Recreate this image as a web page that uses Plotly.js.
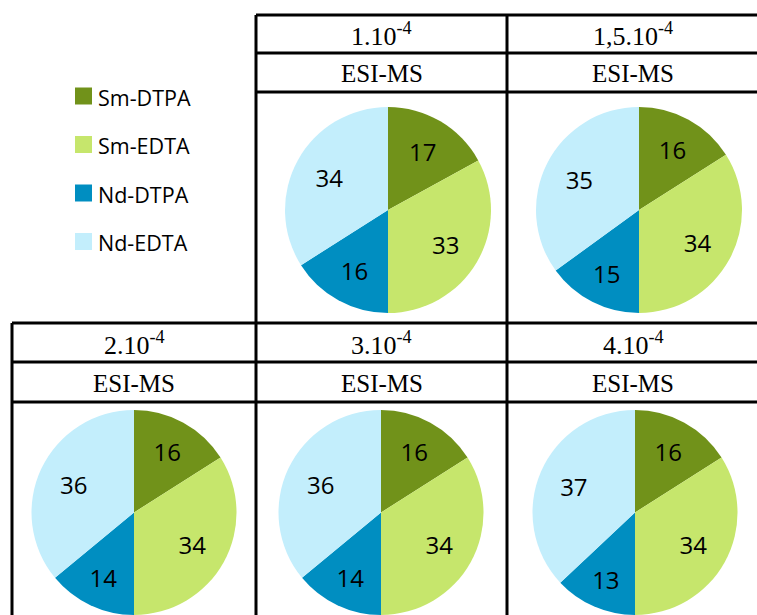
<!DOCTYPE html>
<html>
<head>
<meta charset="utf-8">
<script src="https://cdn.plot.ly/plotly-3.0.1.min.js"></script>
<style>html,body{margin:0;padding:0;background:#fff;}#chart{width:757px;height:615px;}</style>
</head>
<body>
<div id="chart"></div>
<script>
// ---- data ----
const categories = ['Sm-DTPA', 'Sm-EDTA', 'Nd-DTPA', 'Nd-EDTA'];
const concentrations = ['1.10<sup>-4</sup>', '1,5.10<sup>-4</sup>', '2.10<sup>-4</sup>', '3.10<sup>-4</sup>', '4.10<sup>-4</sup>'];
const method = 'ESI-MS';
const values_1_0 = [17, 33, 16, 34];
const values_1_5 = [16, 34, 15, 35];
const values_2_0 = [16, 34, 14, 36];
const values_3_0 = [16, 34, 14, 36];
const values_4_0 = [16, 34, 13, 37];
const seriesValues = [values_1_0, values_1_5, values_2_0, values_3_0, values_4_0];
const colors = ['#71921a', '#c6e66c', '#008ec1', '#c3eefc'];

// ---- layout helpers ----
const W = 757, H = 615;
const px = x => x / W;
const py = y => 1 - y / H;
function dom(cx, cy, r) {
  return {
    x: [Math.max(0, px(cx - r - 3)), Math.min(1, px(cx + r + 3))],
    y: [Math.max(0, py(cy + r)), Math.min(1, py(cy - r))]
  };
}
const cells = [
  {l: 256, r: 507, t: 15, m: 53, b: 92, cx: 388, cy: 210, rad: 103},
  {l: 507, r: 760, t: 15, m: 53, b: 92, cx: 639, cy: 210, rad: 103},
  {l: 12,  r: 256, t: 323, m: 362, b: 402, cx: 134, cy: 512.5, rad: 102.5},
  {l: 256, r: 507, t: 323, m: 362, b: 402, cx: 381, cy: 512.5, rad: 102.5},
  {l: 507, r: 760, t: 323, m: 362, b: 402, cx: 635, cy: 512.5, rad: 102.5}
];

const traces = [];
seriesValues.forEach((vals, i) => {
  const d = dom(cells[i].cx, cells[i].cy, cells[i].rad);
  traces.push({
    type: 'pie', labels: categories, values: vals,
    sort: false, direction: 'clockwise', rotation: 0, domain: d,
    marker: {colors: colors, line: {width: 0}},
    textinfo: 'none', hoverinfo: 'label+value', showlegend: false
  });
  traces.push({
    type: 'pie', labels: categories, values: vals,
    sort: false, direction: 'clockwise', rotation: 0, domain: d, hole: 0.3,
    marker: {colors: ['rgba(0,0,0,0)', 'rgba(0,0,0,0)', 'rgba(0,0,0,0)', 'rgba(0,0,0,0)'], line: {width: 0}},
    textinfo: 'value', textposition: 'inside', insidetextorientation: 'horizontal',
    textfont: {family: 'Open Sans, sans-serif', size: 24, color: '#000'},
    hoverinfo: 'skip', showlegend: false
  });
});

const shapes = [];
const annotations = [];
const line = (x0, y0, x1, y1) => shapes.push({
  type: 'line', xref: 'paper', yref: 'paper',
  x0: px(x0), y0: py(y0), x1: px(x1), y1: py(y1),
  line: {color: '#000', width: 3}
});
line(256, 15, 760, 15); line(256, 53, 760, 53); line(256, 92, 760, 92);
line(256, 15, 256, 620); line(507, 15, 507, 620);
line(12, 323, 760, 323); line(12, 362, 760, 362); line(12, 402, 760, 402);
line(12, 323, 12, 620);

cells.forEach((c, i) => {
  const xm = px((c.l + Math.min(c.r, 757)) / 2 + (c.r > 757 ? 1 : 0));
  annotations.push({
    xref: 'paper', yref: 'paper', x: xm, y: py((c.t + c.m) / 2 + 1),
    text: concentrations[i], showarrow: false, xanchor: 'center', yanchor: 'middle',
    font: {family: 'Liberation Serif, DejaVu Serif, serif', size: 26, color: '#000'}
  });
  annotations.push({
    xref: 'paper', yref: 'paper', x: xm, y: py((c.m + c.b) / 2 + 1),
    text: method, showarrow: false, xanchor: 'center', yanchor: 'middle',
    font: {family: 'Liberation Serif, DejaVu Serif, serif', size: 25, color: '#000'}
  });
});

categories.forEach((cat, i) => {
  const yc = 96 + i * 48.5;
  shapes.push({
    type: 'rect', xref: 'paper', yref: 'paper',
    x0: px(75), x1: px(92), y0: py(yc + 8.5), y1: py(yc - 8.5),
    fillcolor: colors[i], line: {width: 0}
  });
  annotations.push({
    xref: 'paper', yref: 'paper', x: px(96), y: py(yc + 1),
    text: cat, showarrow: false, xanchor: 'left', yanchor: 'middle',
    font: {family: 'Open Sans, sans-serif', size: 21.5, color: '#000'}
  });
});

const layout = {
  width: W, height: H,
  margin: {l: 0, r: 0, t: 0, b: 0},
  paper_bgcolor: '#fff', plot_bgcolor: '#fff',
  showlegend: false, shapes: shapes, annotations: annotations
};

Plotly.newPlot('chart', traces, layout, {displayModeBar: false, staticPlot: true});
</script>
</body>
</html>
